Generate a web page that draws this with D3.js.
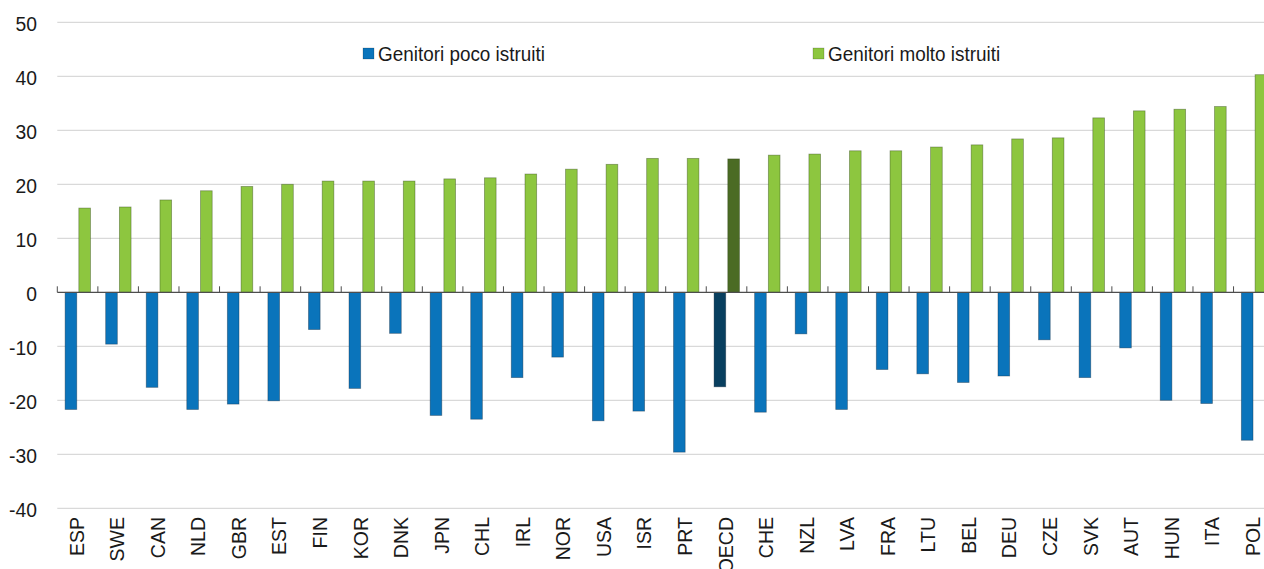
<!DOCTYPE html>
<html>
<head>
<meta charset="utf-8">
<script src="https://cdn.jsdelivr.net/npm/d3@7"></script>
<style>
  html, body { margin: 0; padding: 0; background: #fff; }
  svg { display: block; font-family: "Liberation Sans", Arial, sans-serif; }
</style>
</head>
<body>
<svg id="chart" width="1264" height="569"></svg>
<script>
const categories = ["ESP","SWE","CAN","NLD","GBR","EST","FIN","KOR","DNK","JPN","CHL","IRL","NOR","USA","ISR","PRT","OECD","CHE","NZL","LVA","FRA","LTU","BEL","DEU","CZE","SVK","AUT","HUN","ITA","POL"];
const lowEducated = [-21.7,-9.6,-17.6,-21.7,-20.7,-20.1,-6.9,-17.8,-7.6,-22.8,-23.5,-15.8,-12.0,-23.8,-22.0,-29.6,-17.5,-22.2,-7.7,-21.7,-14.3,-15.1,-16.7,-15.5,-8.8,-15.8,-10.3,-20.0,-20.6,-27.4];
const highEducated = [15.6,15.8,17.1,18.8,19.6,20.0,20.6,20.6,20.6,21.0,21.2,21.9,22.8,23.7,24.8,24.8,24.7,25.4,25.6,26.2,26.2,26.9,27.3,28.4,28.6,32.3,33.6,33.9,34.4,40.3];
const seriesNames = ["Genitori poco istruiti","Genitori molto istruiti"];
const yTicks = [50,40,30,20,10,0,-10,-20,-30,-40];

const colors = {
  low: "#0a74bb", high: "#8dc63f",
  lowOECD: "#083f5f", highOECD: "#4b6b24"
};

const svg = d3.select("#chart");
const left = 57.3, step = 40.56;
const x = d3.scaleBand().domain(categories).range([left, left + categories.length * step]).padding(0);
const y = d3.scaleLinear().domain([-40, 50]).range([508.3, 22.3]);
const sub = d3.scaleBand().domain(["low","high"]).range([7.8, 33.2]).paddingInner(0.15);

// gridlines
svg.append("g").selectAll("line").data(yTicks.filter(d => d !== 0)).join("line")
  .attr("x1", left).attr("x2", 1264)
  .attr("y1", d => y(d)).attr("y2", d => y(d))
  .attr("stroke", "#d9d9d9").attr("stroke-width", 1.2);

// y labels
svg.append("g").selectAll("text").data(yTicks).join("text")
  .attr("transform", d => `translate(37,${y(d) + 1.5}) scale(0.92,1)`)
  .attr("text-anchor", "end").attr("dy", "0.35em")
  .attr("font-size", 21).attr("fill", "#1a1a1a")
  .text(d => d);

// bars
const data = categories.map((c, i) => ({ c, low: lowEducated[i], high: highEducated[i] }));
const g = svg.append("g");
g.selectAll("rect.low").data(data).join("rect").attr("class", "low")
  .attr("x", d => x(d.c) + sub("low")).attr("width", sub.bandwidth())
  .attr("y", y(0)).attr("height", d => y(d.low) - y(0))
  .attr("fill", d => d.c === "OECD" ? colors.lowOECD : colors.low)
  .attr("stroke", "rgba(20,40,60,0.45)").attr("stroke-width", 0.8);
g.selectAll("rect.high").data(data).join("rect").attr("class", "high")
  .attr("x", d => x(d.c) + sub("high")).attr("width", sub.bandwidth())
  .attr("y", d => y(d.high)).attr("height", d => y(0) - y(d.high))
  .attr("fill", d => d.c === "OECD" ? colors.highOECD : colors.high)
  .attr("stroke", "rgba(40,60,20,0.45)").attr("stroke-width", 0.8);

// zero axis line and ticks
svg.append("line").attr("x1", left).attr("x2", 1264).attr("y1", y(0)).attr("y2", y(0))
  .attr("stroke", "#4d4d4d").attr("stroke-width", 1.2);
svg.append("g").selectAll("line").data(d3.range(categories.length + 1)).join("line")
  .attr("x1", i => left + i * step).attr("x2", i => left + i * step)
  .attr("y1", y(0)).attr("y2", y(0) - 6)
  .attr("stroke", "#4d4d4d").attr("stroke-width", 1);

// x labels
svg.append("g").selectAll("text").data(categories).join("text")
  .attr("transform", d => `translate(${x(d) + x.bandwidth() / 2 - 1},517) rotate(-90)`)
  .attr("text-anchor", "end").attr("dy", "0.36em")
  .attr("font-size", 19.5).attr("fill", "#1a1a1a")
  .text(d => d);

// legend
const legend = [
  { name: seriesNames[0], color: colors.low, x: 363 },
  { name: seriesNames[1], color: colors.high, x: 813 }
];
const lg = svg.append("g").selectAll("g").data(legend).join("g")
  .attr("transform", d => `translate(${d.x},0)`);
lg.append("rect").attr("x", 0).attr("y", 48).attr("width", 11).attr("height", 11)
  .attr("fill", d => d.color).attr("stroke", "rgba(0,0,0,0.3)").attr("stroke-width", 0.6);
lg.append("text").attr("transform", "translate(15,61) scale(0.9,1)")
  .attr("font-size", 21).attr("fill", "#1a1a1a").text(d => d.name);
</script>
</body>
</html>
